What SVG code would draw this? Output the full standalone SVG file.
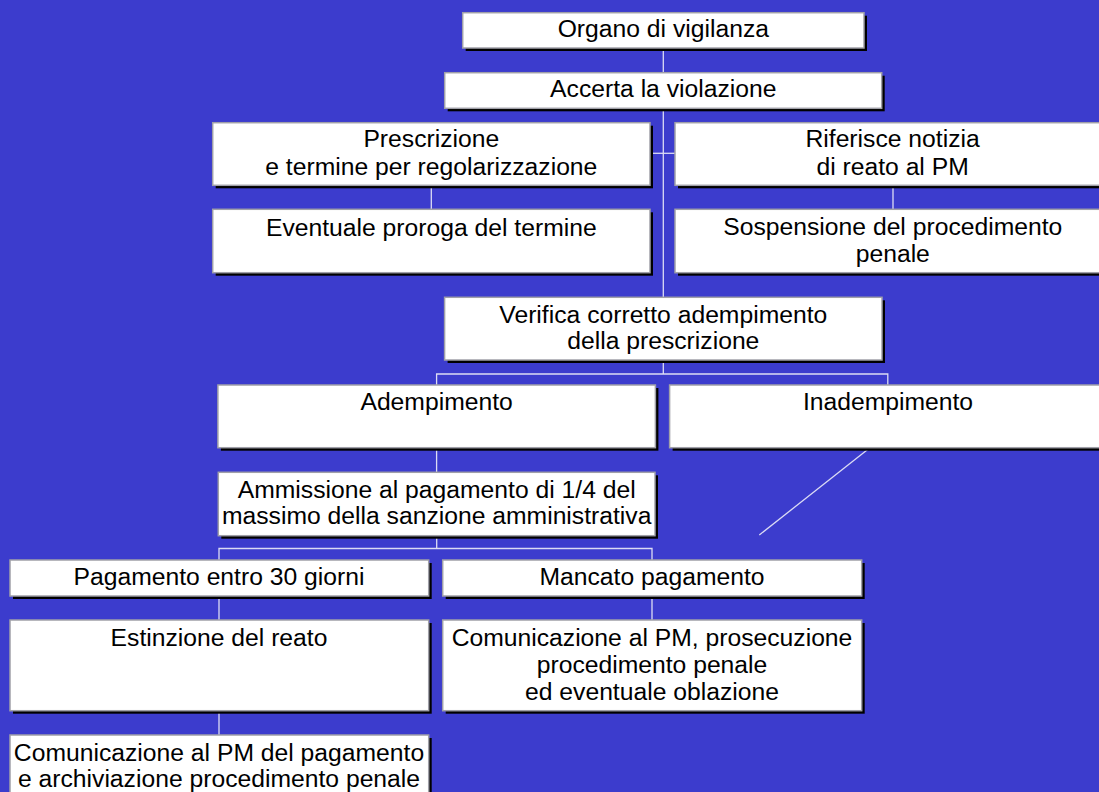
<svg xmlns="http://www.w3.org/2000/svg" width="1099" height="792" viewBox="0 0 1099 792">
<defs>
<style>
.bg{fill:#3c3ccd}
.sh{fill:#000}
.bx{fill:#fff;stroke:#a0a0a8;stroke-width:1.5}
.t{font-family:"Liberation Sans",Arial,sans-serif;font-size:24.7px;fill:#000;text-anchor:middle}
.c{stroke:#dcdcf4;stroke-width:1.3;fill:none}
</style>
</defs>
<rect class="bg" x="0" y="0" width="1099" height="792"/>
<g id="connectors">
<path class="c" d="M663.3,48 V72.7"/>
<path class="c" d="M663.3,108.3 V297.3"/>
<path class="c" d="M650,153.3 H675"/>
<path class="c" d="M431.3,185.3 V209.3"/>
<path class="c" d="M893,185.3 V209.3"/>
<path class="c" d="M663.3,360 V374 M436.6,385 V374 H887.8 V385"/>
<path class="c" d="M436.6,447.7 V472.3"/>
<path class="c" d="M869.6,448 L759.3,535"/>
<path class="c" d="M436.7,535.7 V548.5 M219,560 V548.5 H652 V560"/>
<path class="c" d="M219,596 V620"/>
<path class="c" d="M652,596 V620"/>
<path class="c" d="M219,710.7 V735"/>
</g>
<g id="n1">
<rect class="sh" x="465.7" y="15.7" width="401.3" height="35.3"/>
<rect class="bx" x="462.7" y="12.7" width="401.3" height="35.3"/>
<text class="t" x="663.3" y="37">Organo di vigilanza</text>
</g>
<g id="n2">
<rect class="sh" x="447.7" y="75.7" width="437" height="35.6"/>
<rect class="bx" x="444.7" y="72.7" width="437" height="35.6"/>
<text class="t" x="663.3" y="97.3">Accerta la violazione</text>
</g>
<g id="n3">
<rect class="sh" x="215.7" y="125.7" width="437.3" height="62.6"/>
<rect class="bx" x="212.7" y="122.7" width="437.3" height="62.6"/>
<text class="t" x="431.3" y="147.3">Prescrizione</text>
<text class="t" x="431.3" y="175">e termine per regolarizzazione</text>
</g>
<g id="n4">
<rect class="sh" x="678" y="125.7" width="435" height="62.6"/>
<rect class="bx" x="675" y="122.7" width="435" height="62.6"/>
<text class="t" x="892.6" y="147.3">Riferisce notizia</text>
<text class="t" x="892.6" y="174.5">di reato al PM</text>
</g>
<g id="n5">
<rect class="sh" x="215.7" y="212.3" width="437.3" height="63.4"/>
<rect class="bx" x="212.7" y="209.3" width="437.3" height="63.4"/>
<text class="t" x="431.3" y="236">Eventuale proroga del termine</text>
</g>
<g id="n6">
<rect class="sh" x="678" y="212.3" width="435" height="63.4"/>
<rect class="bx" x="675" y="209.3" width="435" height="63.4"/>
<text class="t" x="892.8" y="235">Sospensione del procedimento</text>
<text class="t" x="892.8" y="261.7">penale</text>
</g>
<g id="n7">
<rect class="sh" x="447.6" y="300.3" width="437.4" height="62.7"/>
<rect class="bx" x="444.6" y="297.3" width="437.4" height="62.7"/>
<text class="t" x="663.3" y="322.7">Verifica corretto adempimento</text>
<text class="t" x="663.3" y="349.3">della prescrizione</text>
</g>
<g id="n8">
<rect class="sh" x="220.9" y="388" width="437.5" height="62.7"/>
<rect class="bx" x="217.9" y="385" width="437.5" height="62.7"/>
<text class="t" x="436.6" y="410">Adempimento</text>
</g>
<g id="n9">
<rect class="sh" x="672.6" y="388" width="437.4" height="62.7"/>
<rect class="bx" x="669.6" y="385" width="437.4" height="62.7"/>
<text class="t" x="888" y="410">Inadempimento</text>
</g>
<g id="n10">
<rect class="sh" x="221.3" y="475.3" width="436.7" height="63.4"/>
<rect class="bx" x="218.3" y="472.3" width="436.7" height="63.4"/>
<text class="t" x="436.7" y="498.3">Ammissione al pagamento di 1/4 del</text>
<text class="t" x="436.7" y="523.5">massimo della sanzione amministrativa</text>
</g>
<g id="n11">
<rect class="sh" x="13" y="563" width="418.7" height="36"/>
<rect class="bx" x="10" y="560" width="418.7" height="36"/>
<text class="t" x="219" y="585">Pagamento entro 30 giorni</text>
</g>
<g id="n12">
<rect class="sh" x="445.7" y="563" width="419" height="36"/>
<rect class="bx" x="442.7" y="560" width="419" height="36"/>
<text class="t" x="652" y="585">Mancato pagamento</text>
</g>
<g id="n13">
<rect class="sh" x="13" y="623" width="418.7" height="90.7"/>
<rect class="bx" x="10" y="620" width="418.7" height="90.7"/>
<text class="t" x="219" y="646">Estinzione del reato</text>
</g>
<g id="n14">
<rect class="sh" x="445.7" y="623" width="419" height="90.7"/>
<rect class="bx" x="442.7" y="620" width="419" height="90.7"/>
<text class="t" x="652" y="646">Comunicazione al PM, prosecuzione</text>
<text class="t" x="652" y="673">procedimento penale</text>
<text class="t" x="652" y="700">ed eventuale oblazione</text>
</g>
<g id="n15">
<rect class="sh" x="13" y="738" width="418.7" height="70"/>
<rect class="bx" x="10" y="735" width="418.7" height="70"/>
<text class="t" x="219" y="760.7">Comunicazione al PM del pagamento</text>
<text class="t" x="219" y="787">e archiviazione procedimento penale</text>
</g>
</svg>
